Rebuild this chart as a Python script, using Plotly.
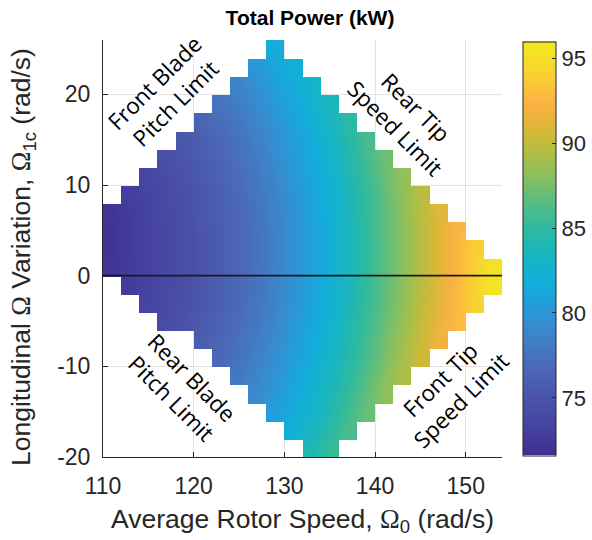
import plotly.graph_objects as go

# ---- data -------------------------------------------------------------
# column centres of Average Rotor Speed (rad/s), cell width 2
omega0 = [111, 113, 115, 117, 119, 121, 123, 125, 127, 129, 131,
          133, 135, 137, 139, 141, 143, 145, 147, 149, 151, 153]
# row centres of Longitudinal variation (rad/s), cell height 2
omega1c = [-19, -17, -15, -13, -11, -9, -7, -5, -3, -1, 1, 3, 5,
           7, 9, 11, 13, 15, 17, 19, 21, 23, 25]
# feasible-region limits for each column (lower / upper edge)
lower_limit = [0, -2, -4, -6, -6, -8, -10, -12, -14, -16, -18,
               -20, -20, -18, -16, -14, -12, -10, -8, -6, -4, -2]
upper_limit = [8, 10, 12, 14, 16, 18, 20, 22, 24, 26, 24,
               22, 20, 18, 16, 14, 12, 10, 8, 6, 4, 2]
# total power (kW) in each column, listed from lower to upper limit
power = [
    [72.1, 72.0, 72.0, 72.1],
    [72.7, 72.6, 72.6, 72.6, 72.7, 72.8],
    [73.4, 73.3, 73.2, 73.2, 73.2, 73.3, 73.4, 73.6],
    [74.2, 74.0, 73.9, 73.8, 73.8, 73.8, 73.9, 74.0, 74.2, 74.5],
    [74.8, 74.6, 74.5, 74.4, 74.4, 74.4, 74.5, 74.6, 74.8, 75.1, 75.3],
    [75.8, 75.5, 75.3, 75.2, 75.1, 75.1, 75.1, 75.2, 75.3, 75.5, 75.8, 76.0, 76.4],
    [76.7, 76.5, 76.2, 76.0, 75.9, 75.8, 75.8, 75.8, 75.9, 76.0, 76.2, 76.5, 76.7,
     77.1, 77.5],
    [77.9, 77.5, 77.3, 77.0, 76.8, 76.7, 76.6, 76.6, 76.6, 76.7, 76.8, 77.0, 77.3,
     77.5, 77.9, 78.3, 78.7],
    [79.2, 78.8, 78.4, 78.2, 77.9, 77.7, 77.6, 77.5, 77.5, 77.5, 77.6, 77.7, 77.9,
     78.2, 78.4, 78.8, 79.2, 79.6, 80.1],
    [80.6, 80.2, 79.8, 79.4, 79.2, 78.9, 78.7, 78.6, 78.5, 78.5, 78.5, 78.6, 78.7,
     78.9, 79.2, 79.4, 79.8, 80.2, 80.6, 81.1, 81.7],
    [82.2, 81.7, 81.3, 80.9, 80.5, 80.3, 80.0, 79.8, 79.7, 79.6, 79.6, 79.6, 79.7,
     79.8, 80.0, 80.3, 80.5, 80.9, 81.3, 81.7, 82.2],
    [84.0, 83.4, 82.9, 82.5, 82.1, 81.7, 81.5, 81.2, 81.0, 80.9, 80.8, 80.8, 80.8,
     80.9, 81.0, 81.2, 81.5, 81.7, 82.1, 82.5, 82.9],
    [85.3, 84.7, 84.2, 83.8, 83.4, 83.0, 82.8, 82.5, 82.3, 82.2, 82.1, 82.1, 82.1,
     82.2, 82.3, 82.5, 82.8, 83.0, 83.4, 83.8],
    [86.1, 85.6, 85.2, 84.8, 84.4, 84.2, 83.9, 83.7, 83.6, 83.5, 83.5, 83.5, 83.6,
     83.7, 83.9, 84.2, 84.4, 84.8],
    [87.1, 86.7, 86.3, 85.9, 85.7, 85.4, 85.2, 85.1, 85.0, 85.0, 85.0, 85.1, 85.2,
     85.4, 85.7, 85.9],
    [88.2, 87.8, 87.4, 87.2, 86.9, 86.7, 86.6, 86.5, 86.5, 86.5, 86.6, 86.7, 86.9,
     87.2],
    [89.3, 88.9, 88.7, 88.4, 88.2, 88.1, 88.0, 88.0, 88.0, 88.1, 88.2, 88.4],
    [90.4, 90.2, 89.9, 89.7, 89.6, 89.5, 89.5, 89.5, 89.6, 89.7],
    [91.7, 91.4, 91.2, 91.1, 91.0, 91.0, 91.0, 91.1],
    [92.9, 92.7, 92.6, 92.5, 92.5, 92.5],
    [94.2, 94.1, 94.0, 94.0],
    [95.6, 95.5],
]
colorbar_ticks = [75, 80, 85, 90, 95]
x_ticks = [110, 120, 130, 140, 150]
y_ticks = [-20, -10, 0, 10, 20]
y_tick_text = ["-20", "-10", "0", "10", "20"]

# ---- build the masked grid ---------------------------------------------
z = [[None] * len(omega0) for _ in omega1c]
for ci, col in enumerate(power):
    for k, val in enumerate(col):
        yc = lower_limit[ci] + 1 + 2 * k
        z[omega1c.index(yc)][ci] = val

parula_like = [
    [0.000, "#3d2f8f"], [0.057, "#4540a0"], [0.139, "#4a54a8"],
    [0.221, "#4a6cb8"], [0.303, "#3a88cc"], [0.344, "#2c96d6"],
    [0.385, "#1ba4dc"], [0.426, "#12afd8"], [0.467, "#16b4c8"],
    [0.508, "#1fb7b4"], [0.549, "#2fba9f"], [0.611, "#58bd82"],
    [0.672, "#8ac05e"], [0.734, "#b4bd44"], [0.775, "#d2b936"],
    [0.816, "#ecb43c"], [0.848, "#fbb244"], [0.885, "#fcc23a"],
    [0.939, "#f6d82c"], [1.000, "#f2ea1c"],
]

INK = "#262626"
FONT = "Liberation Sans, Arial, sans-serif"
OMEGA = '<span style="font-family:Liberation Serif, serif">&#937;</span>'

fig = go.Figure()
fig.add_trace(go.Heatmap(
    x=omega0, y=omega1c, z=z,
    zmin=71.6, zmax=96.0, zsmooth="best",
    colorscale=parula_like,
    hoverongaps=False,
    colorbar=dict(
        x=(523 - 103) / 399, xanchor="left", xpad=0, ypad=0,
        y=0.5, yanchor="middle", len=414, lenmode="pixels",
        thickness=33, thicknessmode="pixels",
        outlinecolor=INK, outlinewidth=1,
        tickvals=colorbar_ticks, ticks="inside", ticklen=4,
        tickcolor=INK, tickfont=dict(family=FONT, size=22, color=INK),
    ),
))

fig.add_hline(y=0, line=dict(color="#1a1a1a", width=1.8), layer="above")

notes = [
    ("Front Blade<br>Pitch Limit", 116.8, 20.2, -45),
    ("Rear Tip<br>Speed Limit", 143.4, 17.4, 45),
    ("Rear Blade<br>Pitch Limit", 118.7, -12.4, 45),
    ("Front Tip<br>Speed Limit", 148.3, -12.6, -45),
]
for txt, ax_, ay_, ang in notes:
    fig.add_annotation(x=ax_, y=ay_, xref="x", yref="y", text=txt,
                       showarrow=False, textangle=ang, align="center",
                       font=dict(family="Open Sans, sans-serif", size=22.5,
                                 color="black"))

# y-axis title (placed as rotated text so it can sit close to the page edge)
fig.add_annotation(
    x=(23 - 103) / 399, y=(457 - 257) / 417, xref="paper", yref="paper",
    xanchor="center", yanchor="middle", textangle=-90, showarrow=False,
    text=f"Longitudinal {OMEGA} Variation, {OMEGA}<sub>1c</sub> (rad/s)",
    font=dict(family=FONT, size=26.5, color=INK))

fig.update_layout(
    width=592, height=540,
    margin=dict(l=103, r=90, t=40, b=83, autoexpand=False),
    paper_bgcolor="white", plot_bgcolor="white",
    showlegend=False,
    title=dict(text="<b>Total Power (kW)</b>", x=310 / 592, xref="container",
               xanchor="center", y=1 - 18 / 540, yref="container",
               yanchor="middle",
               font=dict(family=FONT, size=21, color="black")),
    font=dict(family=FONT, color=INK),
)
fig.update_xaxes(
    range=[110, 154], tickvals=x_ticks, ticks="inside", ticklen=5,
    tickcolor=INK, showline=True, linecolor=INK, linewidth=1,
    showgrid=True, gridcolor="#e3e3e3", gridwidth=1, zeroline=False,
    ticklabelstandoff=8, tickfont=dict(size=23, color=INK),
    title=dict(text=f"Average Rotor Speed, {OMEGA}<sub>0</sub> (rad/s)",
               font=dict(size=26.5, color=INK), standoff=11),
    layer="above traces",
)
fig.update_yaxes(
    range=[-20, 26], tickvals=y_ticks, ticktext=y_tick_text,
    ticks="inside", ticklen=5,
    tickcolor=INK, showline=True, linecolor=INK, linewidth=1,
    showgrid=True, gridcolor="#e3e3e3", gridwidth=1, zeroline=False,
    ticklabelstandoff=7, tickfont=dict(size=23, color=INK),
    layer="above traces",
)

fig.write_html("out.html")
